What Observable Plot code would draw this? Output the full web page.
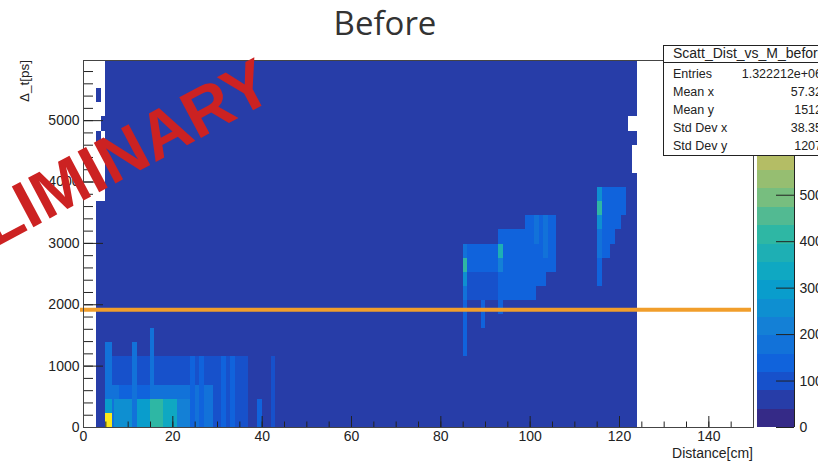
<!DOCTYPE html>
<html><head><meta charset="utf-8">
<script src="https://cdn.jsdelivr.net/npm/d3@7"></script>
<script src="https://cdn.jsdelivr.net/npm/@observablehq/plot@0.6"></script>
<style>
html,body{margin:0;padding:0;background:#fff;}
#wrap{position:relative;width:818px;height:462px;overflow:hidden;font-family:"Liberation Sans",Arial,sans-serif;}
#wrap > svg{position:absolute;top:0;}
</style></head><body><div id="wrap"></div>
<script>
// ---- data ----
const X_RANGE = [0, 150];          // Distance [cm]
const Y_RANGE = [0, 5980];         // Δt [ps]
const Y_BIN = 230;                 // ps per row bin
const Z_MAX = 790;                 // top of palette
const CUT_PS = 1920;               // orange cut line

const xTickLabels = [0, 20, 40, 60, 80, 100, 120, 140];
const yTickLabels = [0, 1000, 2000, 3000, 4000, 5000];
const zTickLabels = [0, 100, 200, 300, 400, 500];

// cells: [xFrom, xTo, rowFrom, rowTo, entries]
const backgroundCells = [
  [3, 5, 0, 16, 55], [3, 4, 20, 21, 55], [4, 5, 21, 22, 55], [3, 4, 23, 24, 55],
  [5, 122, 0, 26, 55], [122, 124, 0, 18, 55], [122, 123, 18, 20, 55],
  [122, 124, 20, 21, 55], [122, 124, 22, 26, 55]
];
const nearCells = [
  [6, 36, 0, 5, 99], [7, 29, 0, 3, 138], [15, 29, 0, 3, 178],
  [5, 6.4, 0, 6, 178], [6.4, 8, 0, 3, 178], [11, 12, 0, 6, 178], [15, 16, 0, 7, 178],
  [24, 25, 0, 5, 138], [26, 27, 0, 5, 138], [31, 32, 0, 5, 138], [33, 34, 0, 5, 138],
  [36, 37, 0, 5, 99], [42, 43, 0, 5, 99], [39, 40, 0, 2, 138],
  [7, 11, 0, 2, 257], [12, 15, 0, 2, 296], [15, 18, 0, 2, 400], [18, 21, 0, 2, 336],
  [21, 24, 0, 2, 217], [5, 6.4, 1, 2, 296], [5, 6.4, 0, 1, 780]
];
const farCells = [
  [85, 93, 9, 11, 99], [85, 93, 11, 13, 138],
  [85, 86, 5, 9, 120], [85, 86, 9, 10, 178], [85, 86, 10, 11, 257], [85, 86, 11, 12, 415], [85, 86, 12, 13, 178],
  [89, 90, 7, 9, 120],
  [93, 100, 9, 14, 138], [93, 94, 8, 9, 120], [93, 94, 11, 12, 217], [93, 94, 12, 13, 375],
  [99, 101.5, 9, 15, 138], [101.5, 103.7, 10, 15, 138], [103.7, 106, 11, 15, 138],
  [101, 102, 13, 15, 178], [103, 104, 12, 15, 178],
  [115, 116.3, 10, 17, 138], [115, 116.3, 12, 14, 178], [115, 116.3, 14, 15, 257],
  [115, 116.3, 15, 16, 415], [115, 116.3, 16, 17, 257],
  [116.3, 121.6, 15, 17, 138], [116.3, 120.5, 14, 15, 138], [116.3, 119, 13, 14, 138], [116.3, 118, 12, 13, 120]
];

const statTitle = "Scatt_Dist_vs_M_before";
const statLabels = ["Entries", "Mean x", "Mean y", "Std Dev x", "Std Dev y"];
const statValues = ["1.322212e+06", "57.32", "1512", "38.35", "1207"];

// ---- palette (ROOT kBird, 20 contours) ----
const birdStops = [0, .125, .25, .375, .5, .625, .75, .875, 1];
const birdRGB = [[.2082,.1664,.5293],[.0592,.3599,.8684],[.0780,.5041,.8385],[.0232,.6419,.7914],
  [.1802,.7178,.6425],[.5301,.7492,.4662],[.8186,.7328,.3499],[.9956,.7862,.1968],[.9764,.9832,.0539]];
const bird = d3.scaleLinear().domain(birdStops)
  .range(birdRGB.map(c => d3.rgb(c[0]*255, c[1]*255, c[2]*255).toString()));
const N_CONT = 20;
const bandColors = d3.range(N_CONT).map(k => bird(Math.floor(0.01 + k * 255 / N_CONT) / 254));
const thresholds = d3.range(1, N_CONT).map(k => k * Z_MAX / N_CONT);
const colorSpec = {type: "threshold", domain: thresholds, range: bandColors};

const toRec = ([x0, x1, r0, r1, n]) => ({x0, x1, y0: r0 * Y_BIN, y1: r1 * Y_BIN, n});
const cells = [...backgroundCells, ...nearCells, ...farCells].map(toRec);

const W = 818, H = 462, ML = 83, MR = 65, MT = 60, MB = 35;
const FW = W - ML - MR, FH = H - MT - MB;
const xMinor = d3.range(0, 150, 5);
const yMinor = d3.range(0, 5980, 200);
const fmt = d3.format("d");
const font = "Liberation Sans, Arial, sans-serif";

const main = Plot.plot({
  width: W, height: H, marginLeft: ML, marginRight: MR, marginTop: MT, marginBottom: MB,
  x: {domain: X_RANGE, ticks: xTickLabels, tickSize: 0, tickPadding: 4, tickFormat: fmt, label: null},
  y: {domain: Y_RANGE, ticks: yTickLabels, tickSize: 0, tickPadding: 4, tickFormat: fmt, label: null},
  color: colorSpec,
  style: {fontFamily: font, fontSize: "14px", color: "#222", background: "transparent"},
  marks: [
    Plot.rect(cells, {x1: "x0", x2: "x1", y1: "y0", y2: "y1", fill: "n", inset: 0, shapeRendering: "crispEdges"}),
    Plot.ruleY([CUT_PS], {stroke: "#f19e2b", strokeWidth: 4, insetLeft: -3, insetRight: 2}),
    Plot.ruleX(xMinor, {insetTop: FH - 5.5, stroke: "#222"}),
    Plot.ruleX(xTickLabels, {insetTop: FH - 11, stroke: "#222"}),
    Plot.ruleY(yMinor, {insetRight: FW - 10, stroke: "#222"}),
    Plot.ruleY(yTickLabels, {insetRight: FW - 20, stroke: "#222"}),
    Plot.frame({stroke: "#444"})
  ]
});
main.style.left = "0px";

const bands = d3.range(N_CONT).map(k => ({lo: k * Z_MAX / N_CONT, hi: (k + 1) * Z_MAX / N_CONT, mid: (k + 0.5) * Z_MAX / N_CONT}));
const BW = 61;
const bar = Plot.plot({
  width: BW, height: H, marginLeft: 0, marginRight: 24, marginTop: MT, marginBottom: MB,
  x: {domain: [0, 1], axis: null},
  y: {domain: [0, Z_MAX], ticks: zTickLabels, tickSize: 0, tickPadding: 5, tickFormat: fmt, label: null, axis: "right"},
  color: colorSpec,
  style: {fontFamily: font, fontSize: "14px", color: "#222", background: "transparent", overflow: "visible"},
  marks: [
    Plot.rect(bands, {x1: () => 0, x2: () => 1, y1: "lo", y2: "hi", fill: "mid", inset: 0, shapeRendering: "crispEdges"}),
    Plot.ruleY(zTickLabels, {insetLeft: 37 - 18, stroke: "#222"}),
    Plot.ruleX([1], {stroke: "#222"})
  ]
});
bar.style.left = "757px";

const wrap = document.getElementById("wrap");
wrap.appendChild(main);
wrap.appendChild(bar);

// ---- overlay: titles, stats box, watermark ----
const ov = d3.create("svg").attr("width", W).attr("height", H).style("left", "0px")
  .attr("font-family", font);
ov.append("text").attr("x", 385).attr("y", 35).attr("text-anchor", "middle")
  .attr("font-family", "Open Sans, sans-serif").attr("font-size", 33).attr("fill", "#333").text("Before");
ov.append("text").attr("transform", "translate(29,60) rotate(-90)").attr("text-anchor", "end")
  .attr("font-size", 13.5).attr("fill", "#222").text("Δ_t[ps]");
ov.append("text").attr("x", 753).attr("y", 458).attr("text-anchor", "end")
  .attr("font-size", 14).attr("fill", "#222").text("Distance[cm]");

const sb = ov.append("g");
sb.append("rect").attr("x", 663.5).attr("y", 45.5).attr("width", 200).attr("height", 110)
  .attr("fill", "#fff").attr("stroke", "#222");
sb.append("line").attr("x1", 663).attr("x2", 818).attr("y1", 62.5).attr("y2", 62.5).attr("stroke", "#222");
sb.append("text").attr("x", 673).attr("y", 58).attr("font-size", 14).attr("fill", "#222").text(statTitle);
statLabels.forEach((l, i) => {
  sb.append("text").attr("x", 673).attr("y", 77.5 + i * 18).attr("font-size", 12.5).attr("fill", "#222").text(l);
  sb.append("text").attr("x", 822).attr("y", 77.5 + i * 18).attr("text-anchor", "end")
    .attr("font-size", 12.5).attr("fill", "#222").text(statValues[i]);
});

ov.append("text").attr("transform", "translate(63,184) rotate(-28)").attr("text-anchor", "middle")
  .attr("dy", "0.36em").attr("font-weight", "bold").attr("font-size", 67).attr("fill", "#cc2222")
  .text("PRELIMINARY");
wrap.appendChild(ov.node());
</script></body></html>
